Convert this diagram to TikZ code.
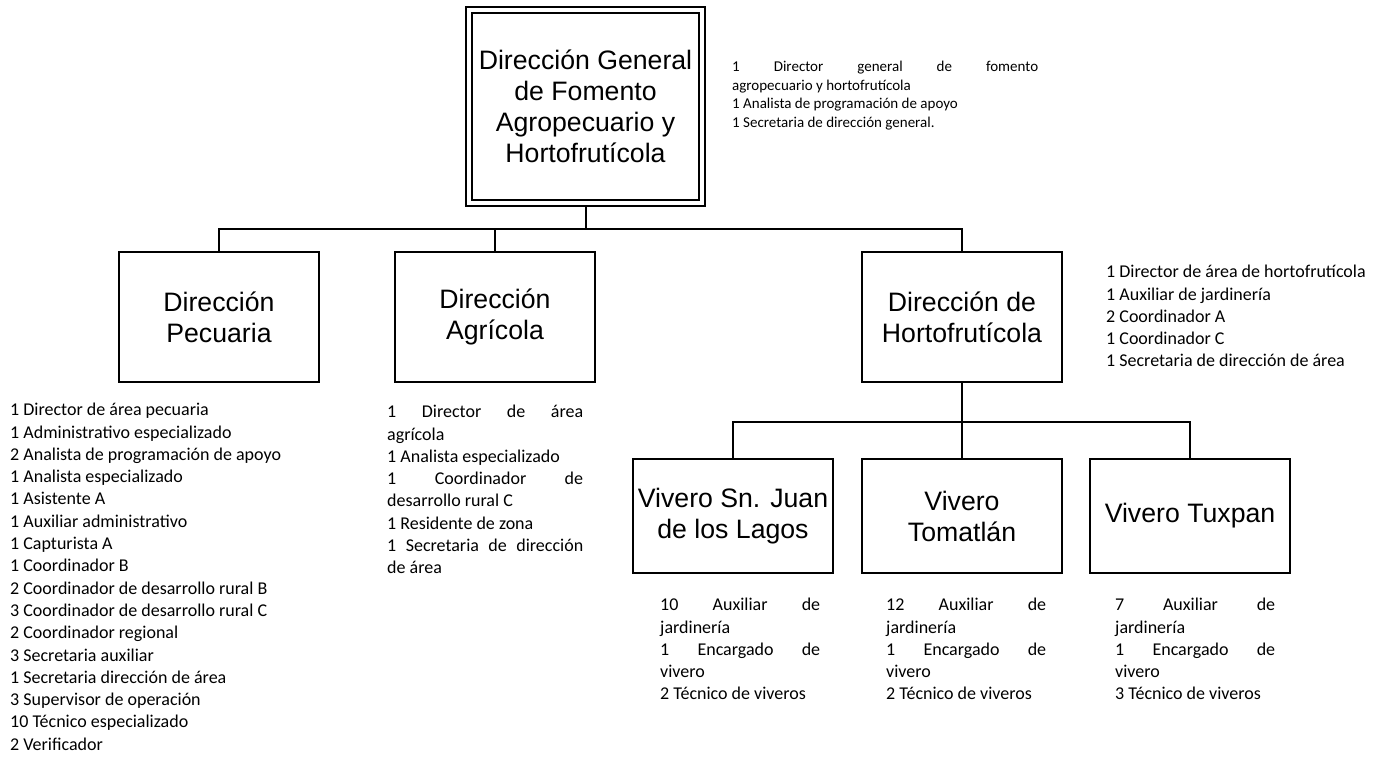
\documentclass[tikz,border=0pt]{standalone}
\usepackage{fontspec}
\newfontfamily\boxfont{Liberation Sans}
\newfontfamily\listfont{Carlito}
\usepackage{tikz}
\usetikzlibrary{positioning}

\begin{document}
\begin{tikzpicture}[
    x=1pt, y=-1pt,
    unit/.style={draw, line width=2pt, minimum width=200pt, minimum height=130pt,
        inner sep=0pt, align=center, font=\boxfont\fontsize{26.67}{31}\selectfont},
    chief/.style={unit, double, double distance=4pt, minimum width=233pt,
        minimum height=193pt, outer sep=4pt},
    vivero/.style={unit, minimum height=114pt},
    staff/.style={anchor=north west, inner sep=0pt, align=justify,
        font=\listfont\fontsize{18}{22.3}\selectfont},
    link/.style={line width=2pt}
]
\useasboundingbox (0,0) rectangle (1379,764);

% units
\node[chief] (top) at (585.5,106.5) {Dirección General\\de Fomento\\Agropecuario y\\Hortofrutícola};
\node[unit] (pec) at (219,317) {Dirección\\Pecuaria};
\node[unit] (agr) at (495,317) {Dirección\\Agrícola};
\node[unit] (hort) at (962,317) {Dirección de\\Hortofrutícola};
\node[vivero] (juan) at (733,516) {Vivero Sn. Juan\\de los Lagos};
\node[vivero] (tom) at (962,516) {Vivero\\Tomatlán};
\node[vivero] (tux) at (1190,516) {Vivero Tuxpan};

% connectors
\coordinate (bus1) at (0,229);
\coordinate (bus2) at (0,422);
\draw[link] (top.south) -- (top.south |- bus1);
\draw[link] (pec.north) |- (bus1 -| hort.north) -- (hort.north);
\draw[link] (agr.north) -- (agr.north |- bus1);
\draw[link] (hort.south) -- (tom.north);
\draw[link] (juan.north) |- (bus2 -| tux.north) -- (tux.north);

% staff lists
\node[staff, text width=306pt, font=\listfont\fontsize{15}{18.5}\selectfont] (topstaff) at (732,61)
    {1 Director general de fomento\linebreak agropecuario y hortofrutícola\par
     1 Analista de programación de apoyo\par
     1 Secretaria de dirección general.};
\node[staff, text width=270pt] (hortstaff) at (1106,265)
    {1 Director de área de hortofrutícola\par
     1 Auxiliar de jardinería\par
     2 Coordinador A\par
     1 Coordinador C\par
     1 Secretaria de dirección de área};
\node[staff, text width=300pt] (pecstaff) at (10,403)
    {1 Director de área pecuaria\par
     1 Administrativo especializado\par
     2 Analista de programación de apoyo\par
     1 Analista especializado\par
     1 Asistente A\par
     1 Auxiliar administrativo\par
     1 Capturista A\par
     1 Coordinador B\par
     2 Coordinador de desarrollo rural B\par
     3 Coordinador de desarrollo rural C\par
     2 Coordinador regional\par
     3 Secretaria auxiliar\par
     1 Secretaria dirección de área\par
     3 Supervisor de operación\par
     10 Técnico especializado\par
     2 Verificador};
\node[staff, text width=196pt] (agrstaff) at (387,405)
    {1 Director de área\linebreak agrícola\par
     1 Analista especializado\par
     1 Coordinador de\linebreak desarrollo rural C\par
     1 Residente de zona\par
     1 Secretaria de dirección\linebreak de área};
\node[staff, text width=160pt] (juanstaff) at (660,598)
    {10 Auxiliar de\linebreak jardinería\par
     1 Encargado de\linebreak vivero\par
     2 Técnico de viveros};
\node[staff, text width=160pt] (tomstaff) at (886,598)
    {12 Auxiliar de\linebreak jardinería\par
     1 Encargado de\linebreak vivero\par
     2 Técnico de viveros};
\node[staff, text width=160pt] (tuxstaff) at (1115,598)
    {7 Auxiliar de\linebreak jardinería\par
     1 Encargado de\linebreak vivero\par
     3 Técnico de viveros};
\end{tikzpicture}
\end{document}
